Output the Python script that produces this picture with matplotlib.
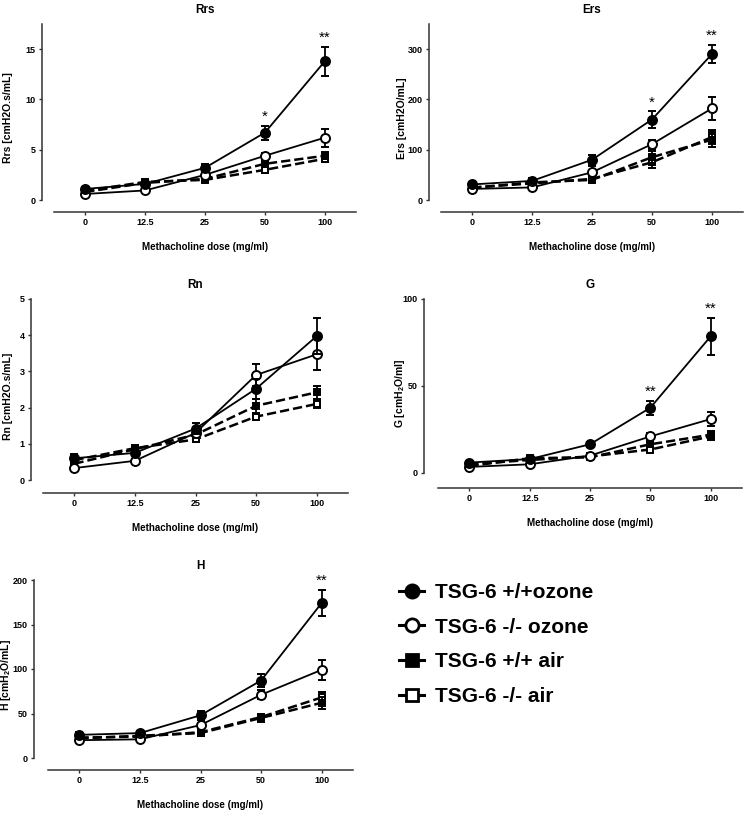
import matplotlib
matplotlib.use("Agg")
import matplotlib.pyplot as plt
from matplotlib.lines import Line2D

plt.rcParams["font.family"] = ["Liberation Sans", "DejaVu Sans"]
plt.rcParams["font.weight"] = "bold"
plt.rcParams["mathtext.fontset"] = "custom"
plt.rcParams["mathtext.rm"] = "Liberation Sans:bold"
plt.rcParams["mathtext.default"] = "rm"

doses = ["0", "12.5", "25", "50", "100"]
groups = ["TSG-6 +/+ozone", "TSG-6 -/- ozone", "TSG-6 +/+ air", "TSG-6 -/- air"]

# средние значения и ошибки (порядок групп как в groups)
rrs_mean = [[1.1, 1.6, 3.2, 6.7, 13.8],
            [0.6, 0.95, 2.5, 4.4, 6.2],
            [0.8, 1.7, 2.1, 3.6, 4.4],
            [0.9, 1.8, 2.0, 3.0, 4.1]]
rrs_err = [[0.15, 0.2, 0.35, 0.7, 1.45],
           [0.1, 0.15, 0.3, 0.3, 0.9],
           [0.1, 0.3, 0.2, 0.3, 0.35],
           [0.1, 0.3, 0.2, 0.3, 0.3]]
rrs_stars = {3: "*", 4: "**"}

ers_mean = [[31, 38, 80, 160, 290],
            [22, 25, 55, 111, 182],
            [24, 35, 40, 85, 120],
            [25, 33, 42, 75, 125]]
ers_err = [[4, 5, 10, 16, 18],
           [3, 4, 12, 9, 22],
           [3, 5, 5, 12, 15],
           [3, 5, 5, 12, 14]]
ers_stars = {3: "*", 4: "**"}

rn_mean = [[0.6, 0.75, 1.42, 2.52, 3.97],
           [0.33, 0.53, 1.3, 2.9, 3.47],
           [0.45, 0.85, 1.25, 2.05, 2.42],
           [0.55, 0.88, 1.12, 1.75, 2.1]]
rn_err = [[0.12, 0.08, 0.15, 0.27, 0.5],
          [0.05, 0.05, 0.12, 0.3, 0.42],
          [0.1, 0.1, 0.1, 0.2, 0.17],
          [0.1, 0.08, 0.08, 0.1, 0.12]]
rn_stars = {}

g_mean = [[6, 8, 16.5, 37.5, 78.5],
          [3.5, 5, 10, 21, 31],
          [4, 8.5, 9, 16.5, 22],
          [5, 7.5, 9.5, 13.5, 21]]
g_err = [[1, 1, 1.5, 4, 10.5],
         [0.5, 0.8, 1.2, 2, 4],
         [0.5, 1, 1, 1.5, 2],
         [0.5, 1, 1, 1.5, 2]]
g_stars = {3: "**", 4: "**"}

h_mean = [[26, 28, 48, 87, 174],
          [20, 21, 37, 71, 99],
          [22, 25, 28, 45, 62],
          [23, 24, 29, 46, 68]]
h_err = [[3, 2, 5, 7, 15],
         [2, 2, 6, 5, 11],
         [2, 2, 3, 5, 7],
         [2, 2, 3, 4, 6]]
h_stars = {4: "**"}

W, H = 745, 814
DPI = 100

styles = [
    dict(marker="o", mfc="black", ls="-", ms=6.5, lw=1.3),
    dict(marker="o", mfc="white", ls="-", ms=6.5, lw=1.3),
    dict(marker="s", mfc="black", ls="--", ms=5, lw=1.8),
    dict(marker="s", mfc="white", ls="--", ms=5, lw=1.8),
]

# (ось y px, x0, x1, верх px, ноль px, низ px, верх значения, тики, заголовок, подпись, данные)
panels = [
    (42, 54, 356, 24, 200, 212, 17.5, [0, 5, 10, 15], "Rrs", "Rrs [cmH2O.s/mL]",
     rrs_mean, rrs_err, rrs_stars),
    (429, 441, 743, 24, 200, 212, 350, [0, 100, 200, 300], "Ers", "Ers [cmH2O/mL]",
     ers_mean, ers_err, ers_stars),
    (31, 43, 348, 299, 480, 493, 5, [0, 1, 2, 3, 4, 5], "Rn", "Rn [cmH2O.s/mL]",
     rn_mean, rn_err, rn_stars),
    (424, 438, 742, 299, 473, 488, 100, [0, 50, 100], "G", r"G [cmH$_2$O/ml]",
     g_mean, g_err, g_stars),
    (34, 48, 353, 580, 758, 770, 200, [0, 50, 100, 150, 200], "H", r"H [cmH$_2$O/mL]",
     h_mean, h_err, h_stars),
]

fig = plt.figure(figsize=(W / DPI, H / DPI), dpi=DPI)

for (yax, x0, x1, ytop, yzero, ybot, vtop, yticks, title, ylabel,
     means, errs, stars) in panels:
    ax = fig.add_axes([x0 / W, 1 - ybot / H, (x1 - x0) / W, (ybot - ytop) / H])
    scale = (yzero - ytop) / vtop
    ax.set_ylim(-(ybot - yzero) / scale, vtop)
    ax.set_xlim(-0.52, 4.52)
    x = list(range(len(doses)))

    for i in [3, 2, 1, 0]:
        st = styles[i]
        ax.errorbar(x, means[i], yerr=errs[i], color="black", ls=st["ls"], lw=st["lw"],
                    marker=st["marker"], ms=st["ms"], mfc=st["mfc"], mec="black", mew=1.4,
                    elinewidth=1.3, capsize=3, capthick=1.3, clip_on=False, zorder=3 + (3 - i))

    for k, s in stars.items():
        top = means[0][k] + errs[0][k]
        ax.annotate(s, (k, top), xytext=(0, 1.5), textcoords="offset points",
                    ha="center", va="bottom", fontsize=11, fontweight="normal")

    for side in ["top", "right"]:
        ax.spines[side].set_visible(False)
    ax.spines["left"].set_position(("outward", (x0 - yax) * 72 / DPI))
    ax.spines["left"].set_bounds(0, vtop)
    for side in ["left", "bottom"]:
        ax.spines[side].set_linewidth(1.1)
        ax.spines[side].set_color("#333333")

    ax.set_yticks(yticks)
    ax.set_xticks(x, doses)
    ax.tick_params(axis="both", labelsize=6.5, width=1, color="#333333", pad=2)
    ax.tick_params(axis="y", length=2.5)
    ax.tick_params(axis="x", length=2.2)
    for lab in ax.get_xticklabels() + ax.get_yticklabels():
        lab.set_fontweight("bold")

    ax.set_title(title, fontsize=8.5, fontweight="bold", pad=8)
    ax.set_xlabel("Methacholine dose (mg/ml)", fontsize=7, fontweight="bold", labelpad=11)
    ax.set_ylabel(ylabel, fontsize=7.5, fontweight="bold")
    lx = 13 if x0 < 300 else 407
    ax.yaxis.set_label_coords((lx - x0) / (x1 - x0), 0.5)

handles = []
for st in styles:
    handles.append(Line2D([], [], color="black", ls="-", lw=2.2, marker=st["marker"],
                          ms=9.5 if st["marker"] == "o" else 8, mfc=st["mfc"],
                          mec="black", mew=2))
fig.legend(handles, groups, loc="upper left", bbox_to_anchor=(399 / W, 1 - 583 / H),
           frameon=False, prop=dict(size=15, weight="bold"), handlelength=1.2,
           handletextpad=0.55, labelspacing=0.75, borderaxespad=0, borderpad=0)

fig.savefig("out.png", dpi=DPI)
